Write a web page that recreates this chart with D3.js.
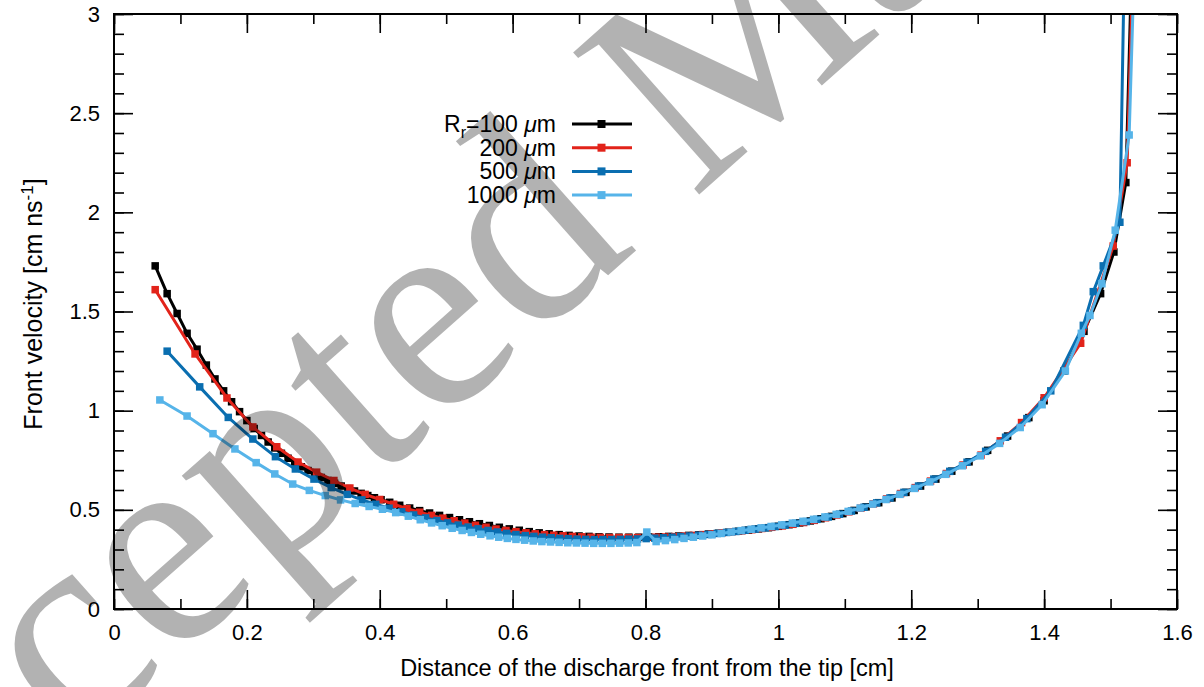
<!DOCTYPE html>
<html>
<head>
<meta charset="utf-8">
<script src="https://cdn.jsdelivr.net/npm/d3@7"></script>
<style>
  html, body { margin: 0; padding: 0; background: #fff; }
  svg { display: block; }
</style>
</head>
<body>
<svg id="chart" width="1204" height="687"></svg>
<script>
// ---------------- data ----------------
const xTicks = [0, 0.2, 0.4, 0.6, 0.8, 1, 1.2, 1.4, 1.6];
const yTicks = [0, 0.5, 1, 1.5, 2, 2.5, 3];

const seriesNames = ["R_r=100 μm", "200 μm", "500 μm", "1000 μm"];
const seriesColors = ["#000000", "#e2231a", "#0a6eb0", "#56b4e9"];

const x100 = [0.062,0.080,0.095,0.110,0.125,0.139,0.152,0.165,0.177,0.189,0.200,0.211,0.222,0.232,0.242,0.252,0.262,0.272,0.282,0.292,0.302,0.312,0.322,0.332,0.342,0.352,0.362,0.372,0.382,0.392,0.402,0.415,0.430,0.445,0.460,0.475,0.490,0.505,0.520,0.535,0.550,0.565,0.580,0.595,0.610,0.625,0.640,0.655,0.670,0.685,0.700,0.715,0.730,0.745,0.760,0.775,0.790,0.805,0.820,0.835,0.850,0.865,0.880,0.895,0.910,0.925,0.940,0.955,0.970,0.985,1.000,1.016,1.032,1.048,1.064,1.080,1.097,1.114,1.132,1.151,1.171,1.192,1.214,1.237,1.261,1.287,1.315,1.345,1.377,1.400,1.430,1.460,1.485,1.505,1.523,1.533];
const v100 = [1.73,1.59,1.49,1.39,1.31,1.23,1.16,1.10,1.045,0.995,0.950,0.910,0.875,0.842,0.812,0.785,0.760,0.738,0.717,0.698,0.680,0.663,0.648,0.634,0.620,0.607,0.595,0.583,0.572,0.561,0.551,0.538,0.523,0.509,0.496,0.484,0.472,0.461,0.450,0.440,0.430,0.421,0.412,0.404,0.397,0.390,0.384,0.379,0.375,0.371,0.368,0.366,0.364,0.363,0.362,0.362,0.362,0.363,0.364,0.366,0.368,0.371,0.374,0.378,0.382,0.387,0.392,0.398,0.404,0.410,0.417,0.425,0.434,0.444,0.455,0.467,0.481,0.497,0.515,0.536,0.560,0.588,0.620,0.655,0.695,0.742,0.800,0.872,0.965,1.050,1.20,1.40,1.59,1.80,2.15,3.40];

const x200 = [0.062,0.122,0.170,0.209,0.245,0.277,0.305,0.331,0.355,0.378,0.400,0.421,0.441,0.460,0.478,0.495,0.512,0.528,0.544,0.560,0.575,0.590,0.605,0.620,0.634,0.648,0.662,0.676,0.690,0.704,0.718,0.732,0.746,0.760,0.774,0.788,0.802,0.816,0.830,0.844,0.858,0.872,0.886,0.900,0.915,0.930,0.945,0.960,0.975,0.990,1.006,1.022,1.038,1.054,1.071,1.088,1.106,1.124,1.143,1.163,1.184,1.206,1.229,1.253,1.278,1.305,1.334,1.366,1.400,1.455,1.504,1.525,1.535];
const v200 = [1.61,1.286,1.064,0.918,0.818,0.741,0.690,0.648,0.610,0.578,0.552,0.528,0.506,0.488,0.472,0.458,0.445,0.433,0.422,0.412,0.403,0.396,0.390,0.384,0.379,0.375,0.372,0.369,0.366,0.364,0.362,0.361,0.360,0.360,0.360,0.360,0.361,0.362,0.363,0.365,0.368,0.371,0.375,0.379,0.384,0.389,0.394,0.400,0.406,0.412,0.419,0.427,0.436,0.447,0.460,0.474,0.490,0.508,0.530,0.555,0.582,0.612,0.645,0.683,0.726,0.776,0.848,0.940,1.065,1.34,1.83,2.25,3.40];

const x500 = [0.080,0.129,0.172,0.209,0.243,0.273,0.301,0.327,0.351,0.373,0.394,0.414,0.433,0.451,0.469,0.486,0.502,0.518,0.533,0.548,0.563,0.577,0.591,0.605,0.619,0.632,0.645,0.658,0.671,0.684,0.697,0.710,0.723,0.736,0.749,0.762,0.775,0.788,0.801,0.814,0.827,0.840,0.853,0.866,0.880,0.894,0.908,0.922,0.936,0.950,0.965,0.980,0.995,1.010,1.026,1.042,1.058,1.075,1.092,1.110,1.129,1.148,1.168,1.189,1.211,1.234,1.258,1.284,1.312,1.342,1.374,1.410,1.459,1.474,1.489,1.514,1.522];
const v500 = [1.30,1.12,0.966,0.857,0.768,0.706,0.655,0.612,0.578,0.550,0.528,0.508,0.490,0.474,0.459,0.446,0.434,0.423,0.413,0.404,0.396,0.388,0.381,0.375,0.370,0.366,0.362,0.359,0.356,0.354,0.352,0.351,0.350,0.350,0.350,0.351,0.352,0.353,0.355,0.357,0.359,0.362,0.365,0.368,0.372,0.376,0.381,0.386,0.391,0.397,0.403,0.409,0.416,0.423,0.432,0.441,0.452,0.464,0.478,0.494,0.513,0.535,0.560,0.588,0.620,0.655,0.694,0.740,0.795,0.866,0.960,1.10,1.43,1.60,1.73,1.95,3.50];

const x1000 = [0.069,0.110,0.149,0.182,0.214,0.242,0.269,0.294,0.318,0.341,0.363,0.384,0.404,0.424,0.443,0.461,0.478,0.494,0.509,0.524,0.538,0.552,0.566,0.579,0.592,0.605,0.618,0.631,0.644,0.657,0.670,0.683,0.696,0.709,0.722,0.735,0.748,0.761,0.774,0.787,0.802,0.816,0.830,0.844,0.858,0.872,0.886,0.900,0.914,0.929,0.944,0.959,0.974,0.989,1.005,1.021,1.037,1.053,1.070,1.087,1.105,1.123,1.142,1.162,1.183,1.205,1.228,1.252,1.277,1.304,1.333,1.364,1.397,1.432,1.456,1.469,1.487,1.507,1.528,1.538];
const v1000 = [1.054,0.973,0.884,0.807,0.738,0.681,0.630,0.598,0.572,0.550,0.532,0.517,0.503,0.486,0.468,0.450,0.434,0.420,0.407,0.396,0.386,0.377,0.369,0.362,0.356,0.351,0.347,0.343,0.340,0.338,0.336,0.334,0.333,0.332,0.331,0.331,0.331,0.332,0.333,0.335,0.388,0.340,0.345,0.350,0.356,0.362,0.368,0.374,0.381,0.388,0.395,0.402,0.409,0.416,0.424,0.433,0.442,0.452,0.464,0.477,0.492,0.509,0.529,0.552,0.578,0.608,0.641,0.679,0.722,0.772,0.835,0.915,1.03,1.20,1.39,1.48,1.64,1.91,2.39,3.50];

const seriesX = [x100, x200, x500, x1000];
const seriesV = [v100, v200, v500, v1000];

// ---------------- layout ----------------
const SANS = "'Liberation Sans', Arial, Helvetica, sans-serif";
const svg = d3.select("#chart");
const L = 114, R = 1177, T = 14, B = 609;
const x = d3.scaleLinear().domain([0, 1.6]).range([L, R]);
const y = d3.scaleLinear().domain([0, 3]).range([B, T]);

const xMinor = d3.range(0, 1.6001, 0.1);
const yMinor = d3.range(0, 3.0001, 0.1);

function styleAxis(g) {
  g.select(".domain").remove();
  g.selectAll(".tick line").attr("stroke", "#000").attr("stroke-width", 1.6);
  g.selectAll("text").style("font-size", "22px").style("font-family", SANS).attr("fill", "#000");
}

// minor ticks
svg.append("g").attr("transform", `translate(0,${B})`)
  .call(d3.axisBottom(x).tickValues(xMinor).tickSize(-10).tickFormat(""))
  .call(styleAxis);
svg.append("g").attr("transform", `translate(0,${T})`)
  .call(d3.axisTop(x).tickValues(xMinor).tickSize(-10).tickFormat(""))
  .call(styleAxis);
svg.append("g").attr("transform", `translate(${L},0)`)
  .call(d3.axisLeft(y).tickValues(yMinor).tickSize(-10).tickFormat(""))
  .call(styleAxis);
svg.append("g").attr("transform", `translate(${R},0)`)
  .call(d3.axisRight(y).tickValues(yMinor).tickSize(-10).tickFormat(""))
  .call(styleAxis);

// major ticks with labels
svg.append("g").attr("transform", `translate(0,${B})`)
  .call(d3.axisBottom(x).tickValues(xTicks).tickSize(-19).tickPadding(15).tickFormat(d3.format("~g")))
  .call(styleAxis);
svg.append("g").attr("transform", `translate(0,${T})`)
  .call(d3.axisTop(x).tickValues(xTicks).tickSize(-19).tickFormat(""))
  .call(styleAxis);
svg.append("g").attr("transform", `translate(${L},0)`)
  .call(d3.axisLeft(y).tickValues(yTicks).tickSize(-19).tickPadding(14).tickFormat(d3.format("~g")))
  .call(styleAxis);
svg.append("g").attr("transform", `translate(${R},0)`)
  .call(d3.axisRight(y).tickValues(yTicks).tickSize(-19).tickFormat(""))
  .call(styleAxis);

// clip
svg.append("defs").append("clipPath").attr("id", "plotclip")
  .append("rect").attr("x", L).attr("y", T).attr("width", R - L).attr("height", B - T);

const plot = svg.append("g").attr("clip-path", "url(#plotclip)");
const line = d3.line().x(d => x(d[0])).y(d => y(d[1]));

seriesX.forEach((xs, i) => {
  const pts = xs.map((xv, j) => [xv, seriesV[i][j]]);
  const g = plot.append("g");
  g.append("path").datum(pts).attr("d", line)
    .attr("fill", "none").attr("stroke", seriesColors[i]).attr("stroke-width", 3)
    .attr("stroke-linejoin", "round");
  g.selectAll("rect").data(pts).join("rect")
    .attr("x", d => x(d[0]) - 3.75).attr("y", d => y(d[1]) - 3.75)
    .attr("width", 7.5).attr("height", 7.5).attr("fill", seriesColors[i]);
});

// frame
svg.append("rect").attr("x", L).attr("y", T).attr("width", R - L).attr("height", B - T)
  .attr("fill", "none").attr("stroke", "#000").attr("stroke-width", 2);

// axis titles
svg.append("text").attr("x", 647).attr("y", 676).attr("text-anchor", "middle")
  .style("font-family", SANS).style("font-size", "23.5px")
  .text("Distance of the discharge front from the tip [cm]");

const yt = svg.append("text").attr("transform", "translate(42,304) rotate(-90)")
  .attr("text-anchor", "middle").style("font-family", SANS).style("font-size", "25px");
yt.append("tspan").text("Front velocity [cm ns");
yt.append("tspan").attr("dy", -9).style("font-size", "17px").text("-1");
yt.append("tspan").attr("dy", 9).text("]");

// legend
const legY0 = 124, legDY = 23.7;
seriesNames.forEach((name, i) => {
  const yy = legY0 + i * legDY;
  const t = svg.append("text").attr("x", 556).attr("y", yy + 8).attr("text-anchor", "end")
    .style("font-family", SANS).style("font-size", "23px");
  if (i === 0) {
    t.append("tspan").text("R");
    t.append("tspan").attr("dy", 6).style("font-size", "16px").text("r");
    t.append("tspan").attr("dy", -6).text("=100 ");
  } else {
    t.append("tspan").text(name.split(" ")[0] + " ");
  }
  t.append("tspan").style("font-style", "italic").text("μ");
  t.append("tspan").text("m");
  svg.append("line").attr("x1", 572).attr("x2", 632).attr("y1", yy).attr("y2", yy)
    .attr("stroke", seriesColors[i]).attr("stroke-width", 3);
  svg.append("rect").attr("x", 597.5).attr("y", yy - 4).attr("width", 8).attr("height", 8)
    .attr("fill", seriesColors[i]);
});

// watermark
svg.append("text").attr("transform", "translate(-180,975) rotate(-41.6)")
  .style("font-family", "'Liberation Serif', 'DejaVu Serif', serif")
  .style("font-size", "290px").attr("fill", "#000").attr("fill-opacity", 0.3)
  .text("Accepted Manuscript");
</script>
</body>
</html>
